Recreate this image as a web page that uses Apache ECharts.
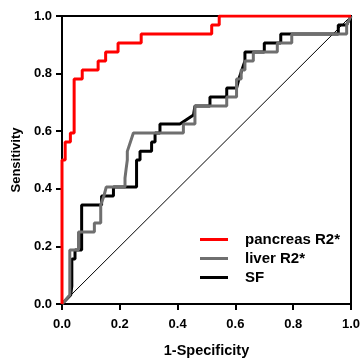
<!DOCTYPE html>
<html>
<head>
<meta charset="utf-8">
<script src="https://cdn.jsdelivr.net/npm/echarts@6/dist/echarts.min.js"></script>
<style>
  html, body { margin: 0; padding: 0; background: #fff; }
  #chart { width: 362px; height: 360px; }
</style>
</head>
<body>
<div id="chart"></div>
<script>
// ROC points: 1-specificity (x) and sensitivity (y)
const seriesNames = ["pancreas R2*", "liver R2*", "SF"];

const pancreasFpr = [0, 0, 0.011, 0.011, 0.029, 0.029, 0.042, 0.042, 0.07, 0.07, 0.125, 0.125, 0.151, 0.151, 0.194, 0.194, 0.274, 0.274, 0.518, 0.518, 0.544, 0.544, 1];
const pancreasTpr = [0, 0.5, 0.5, 0.5625, 0.5625, 0.594, 0.594, 0.781, 0.781, 0.8125, 0.8125, 0.844, 0.844, 0.875, 0.875, 0.906, 0.906, 0.9375, 0.9375, 0.969, 0.969, 1, 1];

const liverFpr = [0, 0.027, 0.027, 0.057, 0.057, 0.112, 0.112, 0.134, 0.134, 0.145, 0.153, 0.218, 0.218, 0.222, 0.222, 0.226, 0.226, 0.247, 0.42, 0.42, 0.46, 0.46, 0.57, 0.57, 0.604, 0.604, 0.62, 0.62, 0.633, 0.633, 0.662, 0.662, 0.745, 0.745, 0.795, 0.795, 0.985, 0.985, 1];
const liverTpr = [0, 0.031, 0.1875, 0.1875, 0.25, 0.25, 0.281, 0.281, 0.344, 0.375, 0.406, 0.406, 0.4375, 0.4375, 0.47, 0.5, 0.53, 0.594, 0.594, 0.625, 0.625, 0.6875, 0.6875, 0.719, 0.719, 0.781, 0.781, 0.8125, 0.8125, 0.844, 0.844, 0.875, 0.875, 0.906, 0.906, 0.9375, 0.9375, 0.969, 1];

const sfFpr = [0, 0.03, 0.034, 0.034, 0.045, 0.045, 0.068, 0.068, 0.137, 0.137, 0.178, 0.178, 0.258, 0.258, 0.27, 0.27, 0.31, 0.31, 0.322, 0.322, 0.339, 0.339, 0.408, 0.455, 0.46, 0.512, 0.512, 0.57, 0.57, 0.604, 0.612, 0.633, 0.633, 0.7, 0.7, 0.757, 0.757, 0.956, 0.956, 0.985, 1];
const sfTpr = [0, 0.031, 0.0625, 0.156, 0.156, 0.1875, 0.1875, 0.344, 0.344, 0.375, 0.375, 0.406, 0.406, 0.5, 0.5, 0.53, 0.53, 0.5625, 0.5625, 0.594, 0.594, 0.625, 0.625, 0.656, 0.6875, 0.6875, 0.719, 0.719, 0.75, 0.75, 0.781, 0.844, 0.875, 0.875, 0.906, 0.906, 0.9375, 0.9375, 0.969, 0.969, 1];

const referenceLine = [0, 1];
const tickValues = [0, 0.2, 0.4, 0.6, 0.8, 1];

const lineColors = ["#ff0000", "#6f6f6f", "#000000"];
const font = "Arial, 'Liberation Sans', sans-serif";

function toPairs(xs, ys) {
  return xs.map((x, i) => [x, ys[i]]);
}

const chart = echarts.init(document.getElementById("chart"));

const axisCommon = {
  type: "value",
  min: tickValues[0],
  max: tickValues[tickValues.length - 1],
  interval: 0.2,
  axisLine: { show: true, onZero: false, lineStyle: { color: "#000", width: 2 } },
  axisTick: { show: true, length: 6, lineStyle: { color: "#000", width: 2 } },
  splitLine: { show: false },
  nameLocation: "middle",
};

chart.setOption({
  animation: false,
  grid: {
    left: 62, right: 11, top: 16, bottom: 56,
    outerBoundsMode: "none",
    containLabel: false,
    show: true, borderColor: "#000", borderWidth: 2,
  },
  xAxis: {
    ...axisCommon,
    name: "1-Specificity",
    nameGap: 39,
    nameTextStyle: { fontFamily: font, fontWeight: "bold", fontSize: 14.5, color: "#000" },
    axisLabel: {
      margin: 14,
      fontFamily: font, fontWeight: "bold", fontSize: 13, color: "#000",
      formatter: (v) => v.toFixed(1),
    },
  },
  yAxis: {
    ...axisCommon,
    name: "Sensitivity",
    nameGap: 38,
    nameTextStyle: { fontFamily: font, fontWeight: "bold", fontSize: 13, color: "#000" },
    axisLabel: {
      margin: 10,
      fontFamily: font, fontWeight: "bold", fontSize: 13, color: "#000",
      formatter: (v) => v.toFixed(1),
    },
  },
  legend: {
    data: seriesNames,
    orient: "vertical",
    left: 195,
    top: 227,
    icon: "rect",
    itemWidth: 28,
    itemHeight: 3,
    itemGap: 4,
    selectedMode: false,
    textStyle: {
      fontFamily: font, fontWeight: "bold", fontSize: 15, color: "#000",
      padding: [0, 0, 0, 12],
    },
  },
  series: [
    {
      type: "line",
      data: toPairs(referenceLine, referenceLine),
      symbol: "none",
      lineStyle: { color: "#000", width: 1 },
      silent: true,
      z: 1,
    },
    {
      name: seriesNames[2],
      type: "line",
      data: toPairs(sfFpr, sfTpr),
      symbol: "none",
      color: lineColors[2],
      lineStyle: { color: lineColors[2], width: 3 },
      z: 2,
    },
    {
      name: seriesNames[1],
      type: "line",
      data: toPairs(liverFpr, liverTpr),
      symbol: "none",
      color: lineColors[1],
      lineStyle: { color: lineColors[1], width: 3 },
      z: 3,
    },
    {
      name: seriesNames[0],
      type: "line",
      data: toPairs(pancreasFpr, pancreasTpr),
      symbol: "none",
      color: lineColors[0],
      lineStyle: { color: lineColors[0], width: 3 },
      z: 4,
    },
  ],
});
</script>
</body>
</html>
